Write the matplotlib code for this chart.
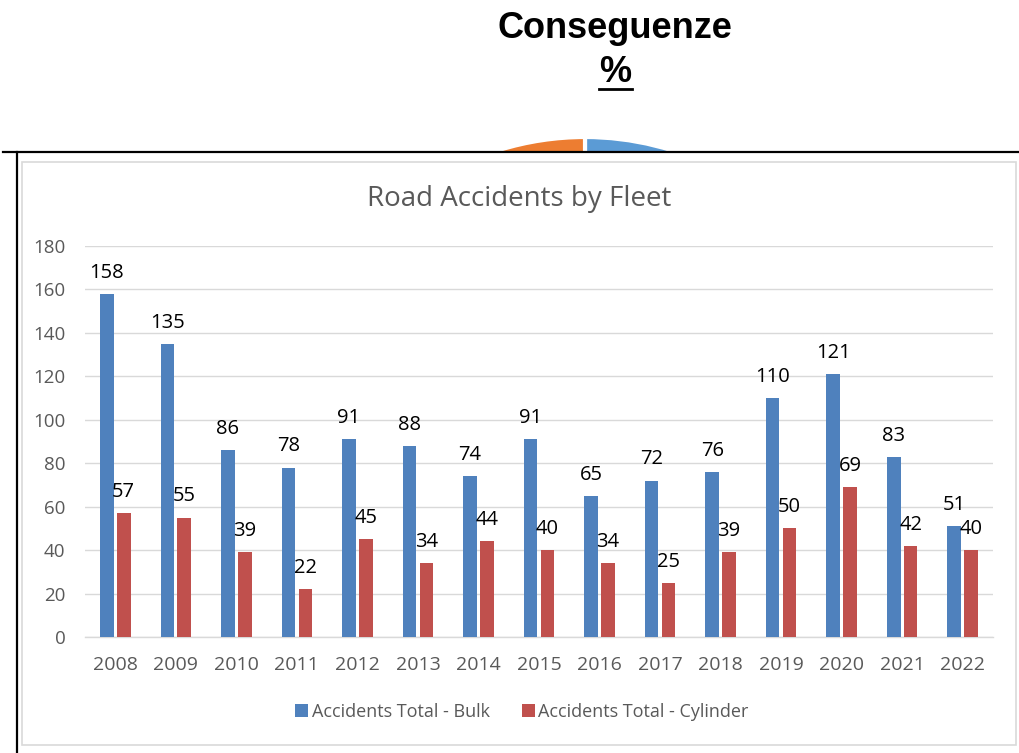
import matplotlib
matplotlib.use("Agg")
import matplotlib.pyplot as plt
import numpy as np
from matplotlib.patches import Rectangle
from matplotlib.lines import Line2D

years = ["2008", "2009", "2010", "2011", "2012", "2013", "2014", "2015",
         "2016", "2017", "2018", "2019", "2020", "2021", "2022"]
bulk = [158, 135, 86, 78, 91, 88, 74, 91, 65, 72, 76, 110, 121, 83, 51]
cylinder = [57, 55, 39, 22, 45, 34, 44, 40, 34, 25, 39, 50, 69, 42, 40]
yticks = [0, 20, 40, 60, 80, 100, 120, 140, 160, 180]
pie_values = [62, 38]

W, H = 1019, 753
fig = plt.figure(figsize=(W / 100, H / 100), dpi=100)
fig.patch.set_facecolor("white")

def fx(x):
    return x / W

def fy(y):
    return 1 - y / H

# background pie (mostly hidden)
cx, cy, r = 585, 427, 290
ax_pie = fig.add_axes([fx(cx - r), fy(cy + r), 2 * r / W, 2 * r / H], zorder=0)
ax_pie.pie(pie_values, colors=["#5B9BD5", "#ED7D31"], startangle=90,
           counterclock=False, wedgeprops=dict(edgecolor="white", linewidth=3))
ax_pie.set_aspect("auto")
ax_pie.set_xlim(-1, 1)
ax_pie.set_ylim(-1, 1)
ax_pie.axis("off")

# white cover box with black frame
fig.patches.append(Rectangle((fx(17), 0), 1, fy(152), transform=fig.transFigure,
                             facecolor="white", edgecolor="none", zorder=2))
fig.lines.append(Line2D([fx(3), 1], [fy(152), fy(152)], transform=fig.transFigure,
                        color="black", lw=1.6, zorder=3))
fig.lines.append(Line2D([fx(17), fx(17)], [fy(152), 0], transform=fig.transFigure,
                        color="black", lw=1.6, zorder=3))
fig.patches.append(Rectangle((fx(22), fy(745)), fx(1016) - fx(22), fy(162) - fy(745),
                             transform=fig.transFigure, facecolor="white",
                             edgecolor="#D9D9D9", lw=1.2, zorder=3))

# top heading
fig.text(fx(615), fy(29), "Conseguenze", ha="center", va="center",
         fontsize=26, fontweight="bold", family="Liberation Sans", color="black")
fig.text(fx(615), fy(73), "%", ha="center", va="center",
         fontsize=26, fontweight="bold", family="Liberation Sans", color="black")
fig.lines.append(Line2D([fx(599), fx(632)], [fy(89), fy(89)], transform=fig.transFigure,
                        color="black", lw=2, zorder=3))

# main chart
font = "Open Sans"
ax = fig.add_axes([fx(85), fy(637), (993 - 85) / W, (637 - 246) / H], zorder=5)
ax.patch.set_alpha(0)
x = np.arange(len(years))
off, w = 0.14, 0.225
ax.bar(x - off, bulk, w, color="#4F81BD", label="Accidents Total - Bulk", zorder=3)
ax.bar(x + off, cylinder, w, color="#C0504D", label="Accidents Total - Cylinder", zorder=3)
for xi, v in zip(x, bulk):
    ax.annotate(str(v), (xi - off, v), xytext=(0, 8), textcoords="offset points",
                ha="center", va="bottom", fontsize=14.5, family=font, color="black")
for xi, v in zip(x, cylinder):
    ax.annotate(str(v), (xi + off, v), xytext=(0, 8), textcoords="offset points",
                ha="center", va="bottom", fontsize=14.5, family=font, color="black")

ax.set_xlim(-0.5, len(years) - 0.5)
ax.set_ylim(0, 180)
ax.set_yticks(yticks)
ax.set_yticklabels([str(t) for t in yticks], family=font, fontsize=13.5, color="#595959")
ax.set_xticks(x)
ax.set_xticklabels(years, family=font, fontsize=14, color="#595959")
ax.tick_params(axis="both", length=0)
ax.tick_params(axis="y", pad=14)
ax.tick_params(axis="x", pad=14)
ax.grid(axis="y", color="#D9D9D9", lw=1, zorder=0)
for s in ["top", "right", "left"]:
    ax.spines[s].set_visible(False)
ax.spines["bottom"].set_color("#D9D9D9")
ax.spines["bottom"].set_linewidth(1)

fig.text(fx(519), fy(199), "Road Accidents by Fleet", ha="center", va="center",
         fontsize=20, family=font, color="#595959", zorder=6)

leg = ax.legend(loc="center", bbox_to_anchor=(fx(522), fy(712)),
                bbox_transform=fig.transFigure, ncol=2, frameon=False,
                prop=dict(family=font, size=13), handlelength=0.7, handleheight=0.7,
                handletextpad=0.2, columnspacing=1.8)
for t in leg.get_texts():
    t.set_color("#595959")

fig.savefig("out.png", dpi=100)
